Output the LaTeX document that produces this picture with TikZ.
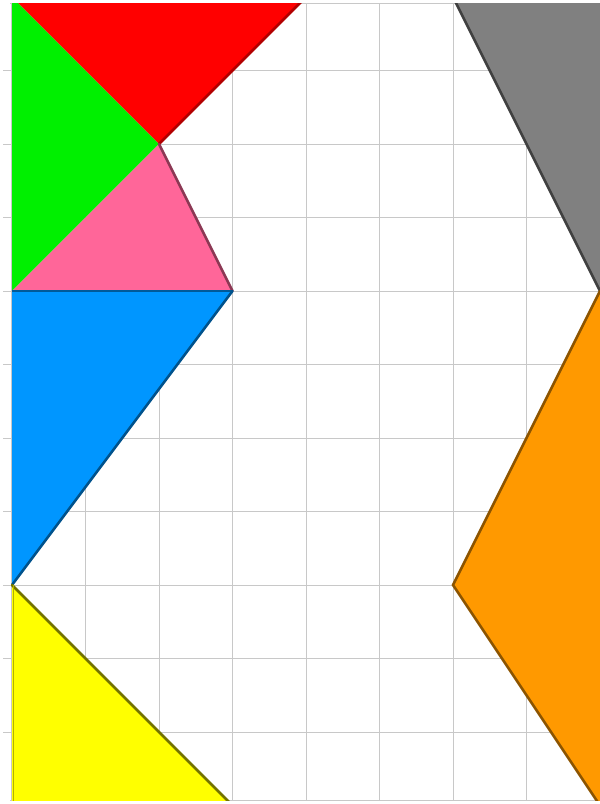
\documentclass[tikz,border=0pt]{standalone}
\definecolor{gridc}{HTML}{C8C8C8}
\definecolor{cred}{HTML}{FF0000}
\definecolor{cgreen}{HTML}{00F000}
\definecolor{cpink}{HTML}{FF6699}
\definecolor{cblue}{HTML}{0096FF}
\definecolor{cyellow}{HTML}{FFFF00}
\definecolor{cgray}{HTML}{808080}
\definecolor{corange}{HTML}{FF9900}
\tikzset{
  gridline/.style={draw=gridc, line width=0.75pt},
  edge/.style={line width=1.9pt, line cap=round},
}
\begin{document}
\begin{tikzpicture}[x=0.75pt,y=-0.75pt]
\useasboundingbox (0,0) rectangle (600,804);
\fill[white] (0,0) rectangle (600,804);
% grid (px coordinates)
\foreach \k in {1,...,7} {
  \draw[gridline] ({12+73.5*\k},3) -- ({12+73.5*\k},800);
}
\foreach \k in {1,...,10} {
  \draw[gridline] (3,{-3+73.5*\k}) -- (600,{-3+73.5*\k});
}
\draw[gridline] (10,3) -- (600,3);
\draw[gridline] (10,800) -- (600,800);
\draw[gridline] (11,3) -- (11,800);
% shapes in grid units
\begin{scope}
\clip (11,3) rectangle (600,800);
\begin{scope}[shift={(9pt,2.25pt)}, x=55.125pt, y=-55.125pt]
  \fill[cred] (0,0) -- (4,0) -- (2,2) -- cycle;
  \fill[cgreen] (0,0) -- (2,2) -- (0,4) -- cycle;
  \fill[cpink] (0,4) -- (2,2) -- (3,4) -- cycle;
  \fill[cblue] (0,4) -- (3,4) -- (0,8) -- cycle;
  \fill[cyellow] (0,8) -- (3,11) -- (0,11) -- cycle;
  \fill[cgray] (6,0) -- (8.5,0) -- (8.5,5) -- (8,4) -- cycle;
  \fill[corange] (8,4) -- (6,8) -- (8,11) -- (8.5,11) -- (8.5,4) -- cycle;
  % shaded edges
  \draw[edge, draw=cred!70!black] (2,2) -- (4,0);
  \draw[edge, draw=cpink!55!black] (2,2) -- (3,4);
  \draw[line width=0.8pt, draw=cblue!60!black] (0,4) -- (3,4);
  \draw[edge, draw=cblue!55!black] (3,4) -- (0,8);
  \draw[edge, draw=cyellow!45!black] (0,8) -- (3,11);
  \draw[line width=1.2pt, draw=cyellow!70!black] (0.02,8) -- (0.02,11);
  \draw[edge, draw=cgray!50!black] (6,0) -- (8,4);
  \draw[edge, draw=corange!55!black] (8,4) -- (6,8) -- (8,11);
\end{scope}
\end{scope}
\end{tikzpicture}
\end{document}
